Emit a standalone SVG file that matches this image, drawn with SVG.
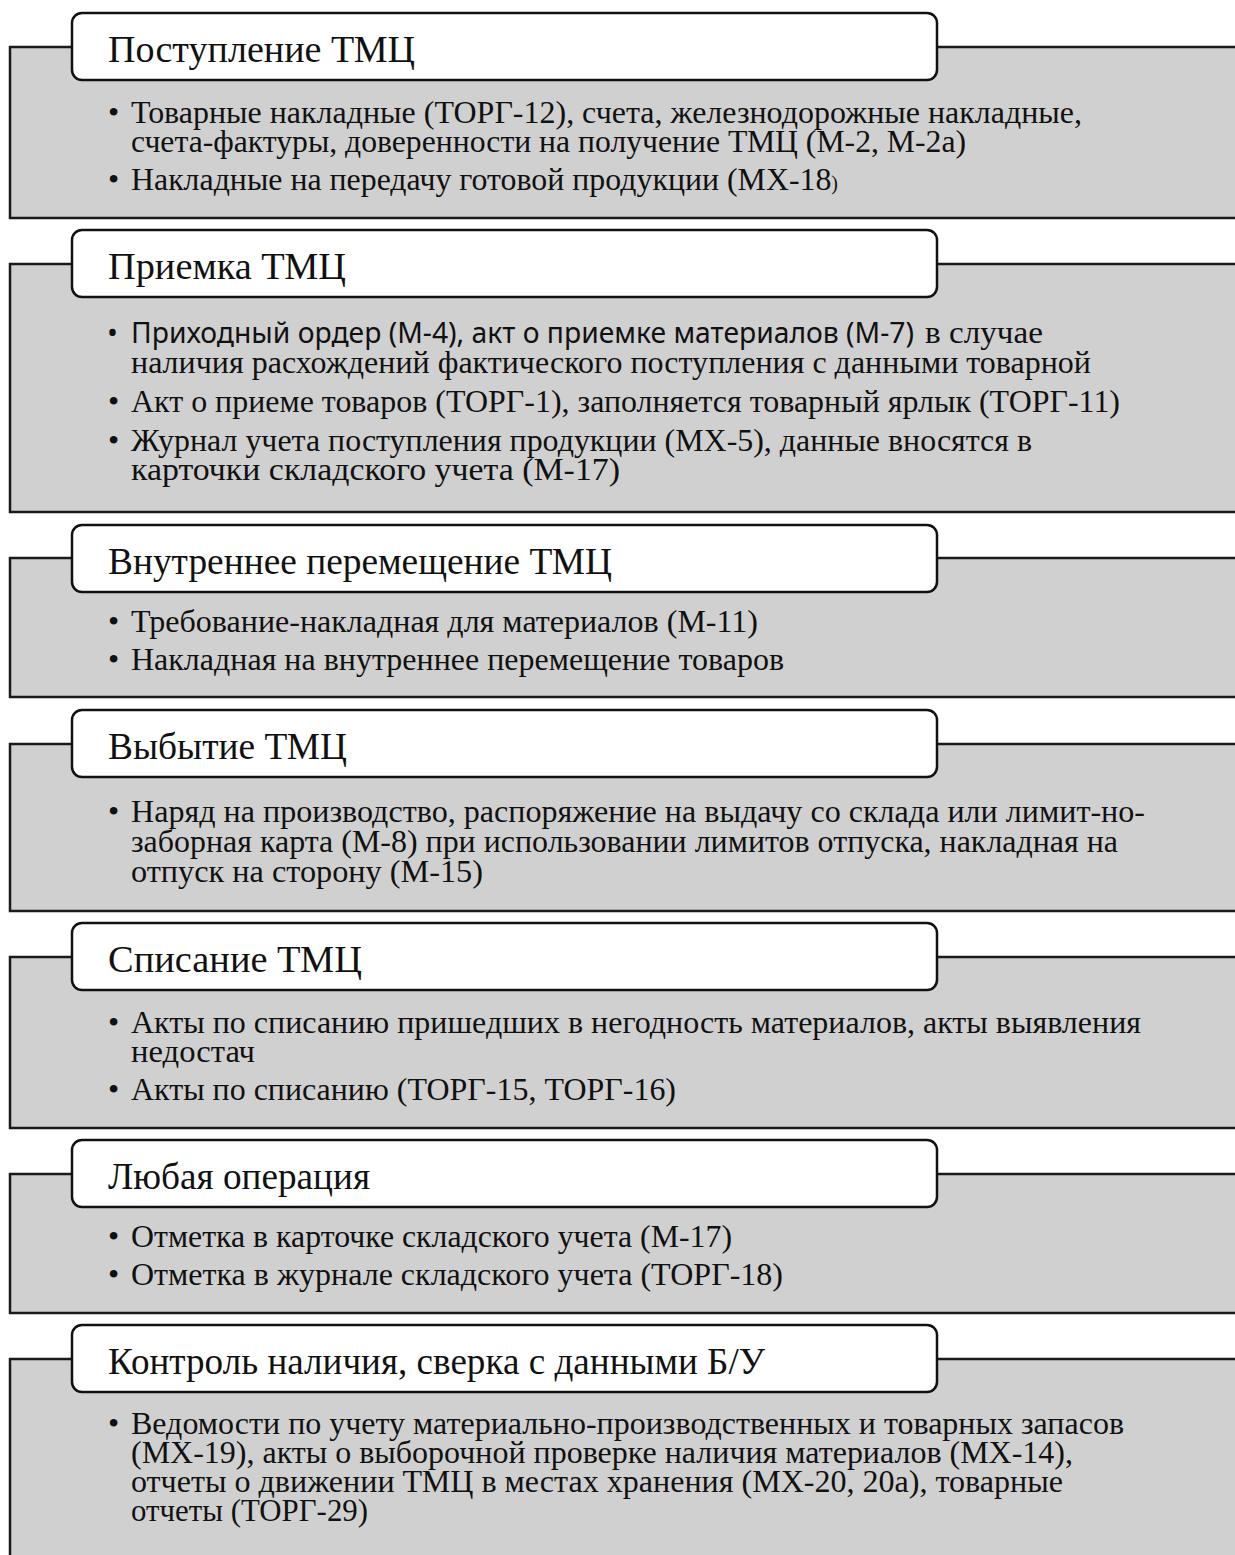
<svg xmlns="http://www.w3.org/2000/svg" width="1235" height="1555" viewBox="0 0 1235 1555">
<style>
.panel{fill:#d0d0d0;stroke:#1a1a1a;stroke-width:2.5}
.head{fill:#ffffff;stroke:#111111;stroke-width:2.5}
.t{font-family:"Liberation Serif","Times New Roman",serif;font-size:38px;fill:#111111}
.b{font-family:"Liberation Serif","Times New Roman",serif;font-size:32px;fill:#111111}
.s{font-family:"Noto Sans","Open Sans",sans-serif;font-size:29px;fill:#111111}
</style>
<rect width="1235" height="1555" fill="#ffffff"/>

<g id="s1">
<rect class="panel" x="10" y="47" width="1260" height="171"/>
<rect class="head" x="72" y="13" width="865" height="67" rx="10"/>
<text class="t" x="108" y="62" textLength="307" lengthAdjust="spacingAndGlyphs">Поступление ТМЦ</text>
<text class="b" x="108" y="123">•</text>
<text class="b" x="131" y="123" textLength="951" lengthAdjust="spacingAndGlyphs">Товарные накладные (ТОРГ-12), счета, железнодорожные накладные,</text>
<text class="b" x="131" y="152" textLength="835" lengthAdjust="spacingAndGlyphs">счета-фактуры, доверенности на получение ТМЦ (М-2, М-2а)</text>
<text class="b" x="108" y="190">•</text>
<text class="b" x="131" y="190" textLength="707" lengthAdjust="spacingAndGlyphs">Накладные на передачу готовой продукции (МХ-18<tspan font-size="20px">)</tspan></text>
</g>

<g id="s2">
<rect class="panel" x="10" y="264" width="1260" height="248"/>
<rect class="head" x="72" y="230" width="865" height="67" rx="10"/>
<text class="t" x="108" y="279" textLength="238" lengthAdjust="spacingAndGlyphs">Приемка ТМЦ</text>
<text class="s" x="107" y="343">•</text>
<text class="s" x="131" y="343" textLength="783" lengthAdjust="spacingAndGlyphs">Приходный ордер (М-4), акт о приемке материалов (М-7)</text>
<text class="b" x="925" y="343" textLength="118" lengthAdjust="spacingAndGlyphs">в случае</text>
<text class="b" x="131" y="373" textLength="960" lengthAdjust="spacingAndGlyphs">наличия расхождений фактического поступления с данными товарной</text>
<text class="b" x="108" y="412">•</text>
<text class="b" x="131" y="412" textLength="989" lengthAdjust="spacingAndGlyphs">Акт о приеме товаров (ТОРГ-1), заполняется товарный ярлык (ТОРГ-11)</text>
<text class="b" x="108" y="451">•</text>
<text class="b" x="131" y="451" textLength="901" lengthAdjust="spacingAndGlyphs">Журнал учета поступления продукции (МХ-5), данные вносятся в</text>
<text class="b" x="131" y="480" textLength="489" lengthAdjust="spacingAndGlyphs">карточки складского учета (М-17)</text>
</g>

<g id="s3">
<rect class="panel" x="10" y="558" width="1260" height="139"/>
<rect class="head" x="72" y="525" width="865" height="67" rx="10"/>
<text class="t" x="108" y="574" textLength="504" lengthAdjust="spacingAndGlyphs">Внутреннее перемещение ТМЦ</text>
<text class="b" x="108" y="632">•</text>
<text class="b" x="131" y="632" textLength="627" lengthAdjust="spacingAndGlyphs">Требование-накладная для материалов (М-11)</text>
<text class="b" x="108" y="670">•</text>
<text class="b" x="131" y="670" textLength="653" lengthAdjust="spacingAndGlyphs">Накладная на внутреннее перемещение товаров</text>
</g>

<g id="s4">
<rect class="panel" x="10" y="744" width="1260" height="167"/>
<rect class="head" x="72" y="710" width="865" height="67" rx="10"/>
<text class="t" x="108" y="759" textLength="239" lengthAdjust="spacingAndGlyphs">Выбытие ТМЦ</text>
<text class="b" x="108" y="822">•</text>
<text class="b" x="131" y="822" textLength="1014" lengthAdjust="spacingAndGlyphs">Наряд на производство, распоряжение на выдачу со склада или лимит-но-</text>
<text class="b" x="131" y="852" textLength="987" lengthAdjust="spacingAndGlyphs">заборная карта (М-8) при использовании лимитов отпуска, накладная на</text>
<text class="b" x="131" y="882" textLength="352" lengthAdjust="spacingAndGlyphs">отпуск на сторону (М-15)</text>
</g>

<g id="s5">
<rect class="panel" x="10" y="957" width="1260" height="171"/>
<rect class="head" x="72" y="923" width="865" height="67" rx="10"/>
<text class="t" x="108" y="972" textLength="254" lengthAdjust="spacingAndGlyphs">Списание ТМЦ</text>
<text class="b" x="108" y="1033">•</text>
<text class="b" x="131" y="1033" textLength="1010" lengthAdjust="spacingAndGlyphs">Акты по списанию пришедших в негодность материалов, акты выявления</text>
<text class="b" x="131" y="1062" textLength="124" lengthAdjust="spacingAndGlyphs">недостач</text>
<text class="b" x="108" y="1100">•</text>
<text class="b" x="131" y="1100" textLength="545" lengthAdjust="spacingAndGlyphs">Акты по списанию (ТОРГ-15, ТОРГ-16)</text>
</g>

<g id="s6">
<rect class="panel" x="10" y="1174" width="1260" height="139"/>
<rect class="head" x="72" y="1140" width="865" height="67" rx="10"/>
<text class="t" x="108" y="1189" textLength="262" lengthAdjust="spacingAndGlyphs">Любая операция</text>
<text class="b" x="108" y="1247">•</text>
<text class="b" x="131" y="1247" textLength="601" lengthAdjust="spacingAndGlyphs">Отметка в карточке складского учета (М-17)</text>
<text class="b" x="108" y="1285">•</text>
<text class="b" x="131" y="1285" textLength="652" lengthAdjust="spacingAndGlyphs">Отметка в журнале складского учета (ТОРГ-18)</text>
</g>

<g id="s7">
<rect class="panel" x="10" y="1359" width="1260" height="260"/>
<rect class="head" x="72" y="1325" width="865" height="67" rx="10"/>
<text class="t" x="108" y="1374" textLength="657" lengthAdjust="spacingAndGlyphs">Контроль наличия, сверка с данными Б/У</text>
<text class="b" x="108" y="1434">•</text>
<text class="b" x="131" y="1434" textLength="993" lengthAdjust="spacingAndGlyphs">Ведомости по учету материально-производственных и товарных запасов</text>
<text class="b" x="131" y="1463" textLength="942" lengthAdjust="spacingAndGlyphs">(МХ-19), акты о выборочной проверке наличия материалов (МХ-14),</text>
<text class="b" x="131" y="1492" textLength="932" lengthAdjust="spacingAndGlyphs">отчеты о движении ТМЦ в местах хранения (МХ-20, 20а), товарные</text>
<text class="b" x="131" y="1521" textLength="237" lengthAdjust="spacingAndGlyphs">отчеты (ТОРГ-29)</text>
</g>
</svg>
